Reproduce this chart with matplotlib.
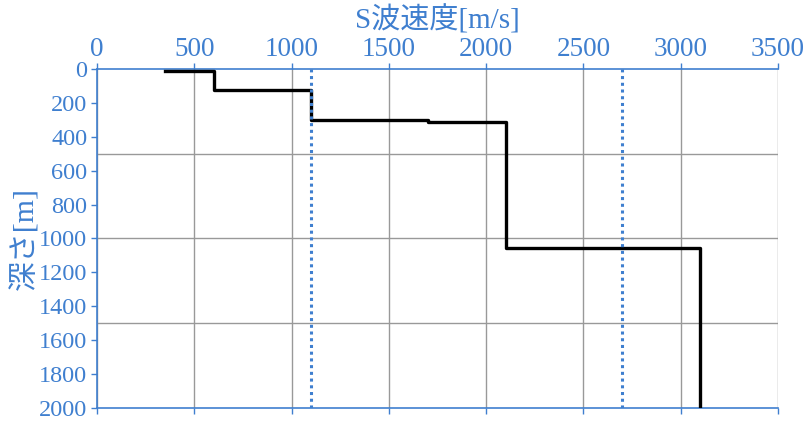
import matplotlib
matplotlib.use('Agg')
import matplotlib.pyplot as plt

# S-wave velocity profile (step), depth in m
vs = [350, 600, 600, 1100, 1100, 1700, 1700, 2100, 2100, 3100, 3100]
depth = [10, 10, 125, 125, 300, 300, 310, 310, 1055, 1055, 2000]
ref_lines = [1100, 2700]

x_ticks = [0, 500, 1000, 1500, 2000, 2500, 3000, 3500]
y_ticks = list(range(0, 2001, 200))

blue = '#3f7fcf'
fonts = ['Liberation Serif', 'Noto Sans CJK JP']
plt.rcParams['font.family'] = fonts

fig = plt.figure(figsize=(8.1, 4.26), dpi=100)
ax = fig.add_axes([0.1198, 0.0423, 0.8407, 0.7957])

for x in x_ticks:
    ax.axvline(x, color='#999999', lw=1.0, zorder=1)
for y in [500, 1000, 1500]:
    ax.axhline(y, color='#999999', lw=1.0, zorder=1)

ax.plot(vs, depth, color='black', lw=2.4, zorder=3)
for x in ref_lines:
    ax.axvline(x, color=blue, lw=2.2, ls=(0, (1, 1.2)), zorder=4)

ax.set_xlim(0, 3500)
ax.set_ylim(2000, 0)
ax.xaxis.tick_top()
ax.xaxis.set_label_position('top')
ax.set_xticks(x_ticks)
ax.set_yticks(y_ticks)
ax.tick_params(axis='both', colors=blue, length=4, width=1, pad=3)
ax.tick_params(axis='x', labelsize=19.5, pad=1, bottom=True, labelbottom=False)
ax.tick_params(axis='y', labelsize=17.5)

ax.spines['right'].set_visible(False)
for s in ['left', 'top', 'bottom']:
    ax.spines[s].set_color(blue)
    ax.spines[s].set_linewidth(1.2)

ax.set_xlabel('S波速度[m/s]', color=blue, fontsize=21, labelpad=6)
ax.set_ylabel('深さ[m]', color=blue, fontsize=21.5, labelpad=0)

fig.savefig('out.png', dpi=100)
